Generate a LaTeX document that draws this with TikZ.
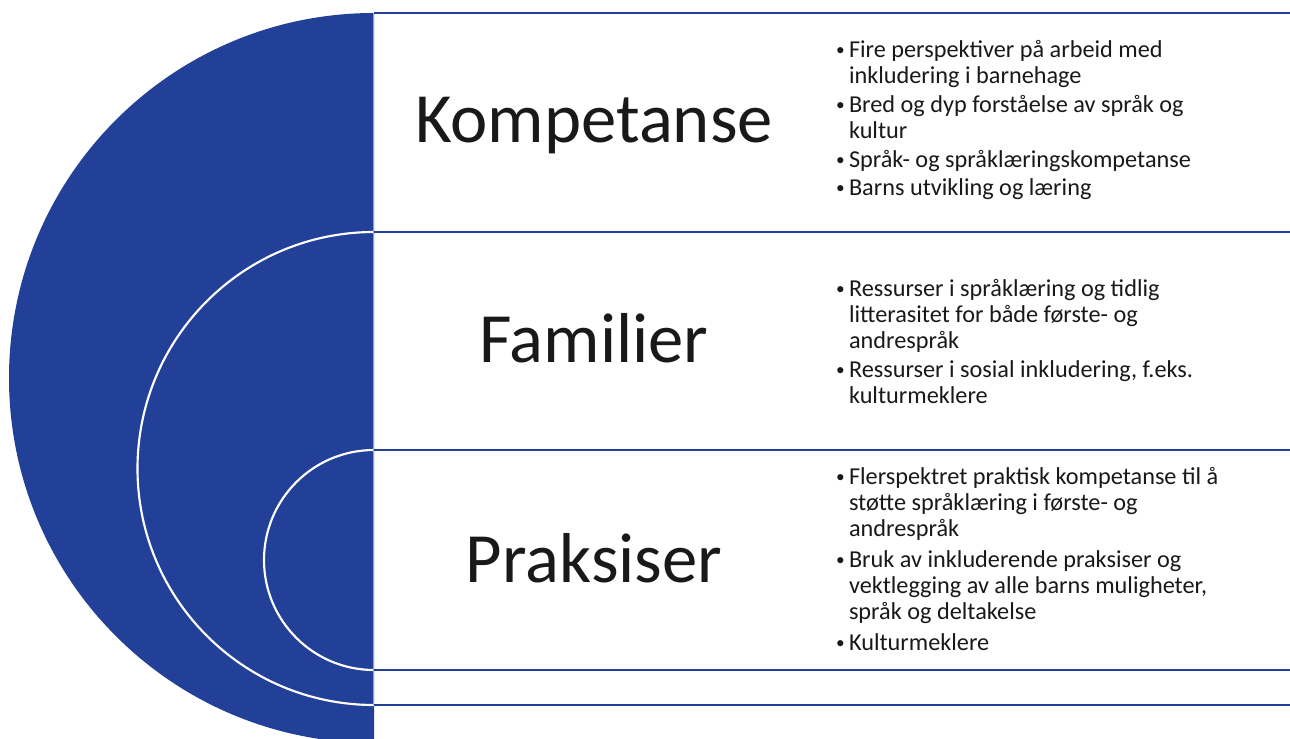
\documentclass[tikz,border=0pt]{standalone}
\usepackage{fontspec}
\setmainfont{Carlito}
\definecolor{dblue}{RGB}{35,64,152}
\definecolor{lblue}{RGB}{150,165,210}
\newcommand{\bul}{\makebox[10.3pt][l]{\hspace*{0.6pt}\raisebox{1.2pt}{\fontsize{13}{13}\selectfont•}}}
\newcommand{\ind}{\hspace*{10.3pt}}
\newcommand{\lines}[1]{\begin{tabular}[t]{@{}l@{}}#1\end{tabular}}
\begin{document}
\begin{tikzpicture}[x=0.75pt,y=-0.75pt,
  rowline/.style={draw=dblue,line width=1.9pt},
  arcline/.style={draw=white,line width=1.6pt},
  title/.style={anchor=base,inner sep=0pt,font=\fontsize{53}{60}\selectfont,text=black!90},
  item/.style={anchor=base west,inner sep=0pt,font=\fontsize{18.2}{19.5}\selectfont,text=black!90}]
\useasboundingbox (0,0) rectangle (1290,739);
\fill[white] (0,0) rectangle (1290,739);
\begin{scope}
  \clip (0,0) rectangle (374,739);
  \fill[dblue] (374,378) circle[radius=365];
  \draw[arcline] (374,468.5) circle[radius=236.5];
  \draw[arcline] (374,560) circle[radius=110];
\end{scope}
\draw[lblue,line width=0.7pt] (373.5,13) -- (373.5,705);
\foreach \yy in {13,232,450,670,705} \draw[rowline] (374,\yy) -- (1290,\yy);
\node[title] (t1) at (594,142) {Kompetanse};
\node[title] (t2) at (594,362) {Familier};
\node[title] (t3) at (594,582) {Praksiser};
\node[item] (a1) at (835,57) {\lines{\bul Fire perspektiver på arbeid med\\\ind inkludering i barnehage}};
\node[item] (a2) at (835,112) {\lines{\bul Bred og dyp forståelse av språk og\\\ind kultur}};
\node[item] (a3) at (835,167) {\lines{\bul Språk- og språklæringskompetanse}};
\node[item] (a4) at (835,195) {\lines{\bul Barns utvikling og læring}};
\node[item] (b1) at (835,296) {\lines{\bul Ressurser i språklæring og tidlig\\\ind litterasitet for både første- og\\\ind andrespråk}};
\node[item] (b2) at (835,377) {\lines{\bul Ressurser i sosial inkludering, f.eks.\\\ind kulturmeklere}};
\node[item] (c1) at (835,484) {\lines{\bul Flerspektret praktisk kompetanse til å\\\ind støtte språklæring i første- og\\\ind andrespråk}};
\node[item] (c2) at (835,567) {\lines{\bul Bruk av inkluderende praksiser og\\\ind vektlegging av alle barns muligheter,\\\ind språk og deltakelse}};
\node[item] (c3) at (835,650) {\lines{\bul Kulturmeklere}};
\end{tikzpicture}
\end{document}
